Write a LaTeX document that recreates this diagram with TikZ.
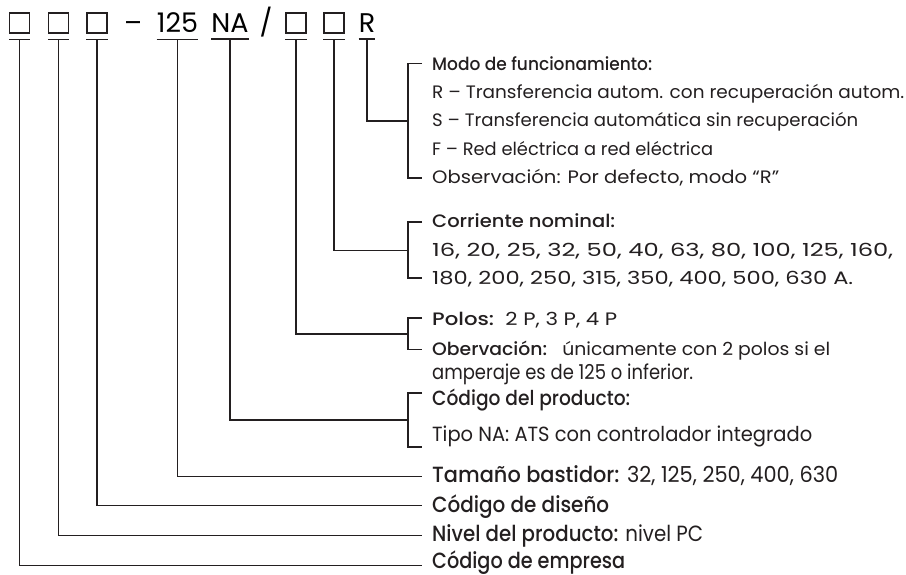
\documentclass[tikz,border=0pt]{standalone}
\usepackage{fontspec}
\usepackage{graphicx}
\IfFontExistsTF{Poppins Medium}
  {\setmainfont{Poppins}[BoldFont={Poppins Medium}]}
  {\setmainfont{Poppins}}
\usetikzlibrary{positioning,calc}
\definecolor{inkline}{RGB}{35,31,32}
\newcommand{\fitline}[2]{\resizebox{#1pt}{\height}{#2}}

\begin{document}
\begin{tikzpicture}[x=1pt,y=-1pt,
    codebox/.style={draw=inkline,line width=1.4pt,minimum size=20pt,inner sep=0pt},
    codetxt/.style={inner sep=0pt,anchor=base,font=\fontsize{27}{27}\selectfont},
    desc/.style={inner sep=0pt,anchor=base west,text=inkline,font=\fontsize{18}{20}\selectfont},
    descm/.style={desc,font=\fontsize{20.5}{22}\selectfont},
    descl/.style={desc,font=\fontsize{22}{24}\selectfont},
    wire/.style={draw=inkline,line width=1.4pt}]
  \useasboundingbox (0,0) rectangle (906,575);
  \def\tx{432}
  \def\gap{10pt}
  \foreach \n/\x in {b1/19.5,b2/58.5,b3/97,b4/296,b5/334}
    \node[codebox] (\n) at (\x,23) {};
  \node[codetxt] (dash) at (133,33) {\fitline{18}{–}};
  \node[codetxt] (c125) at (177.5,33) {125};
  \node[codetxt] (cNA) at (230,33) {NA};
  \node[codetxt] (slash) at (266,33) {/};
  \node[codetxt] (cR) at (367,33) {R};
  \foreach \n in {b1,b2,b3,c125,cNA,b4,b5,cR}
    \draw[wire] ([yshift=-6pt]\n.south west) -- ([yshift=-6pt]\n.south east);

  \node[desc] (modo) at (\tx,70.5) {\fitline{220}{\textbf{Modo de funcionamiento:}}};
  \node[desc] (modoR) at (\tx,99) {\fitline{472}{R – Transferencia autom. con recuperación autom.}};
  \node[desc] (modoS) at (\tx,127) {\fitline{426}{S – Transferencia automática sin recuperación}};
  \node[desc] (modoF) at (\tx,155.5) {\fitline{281}{F – Red eléctrica a red eléctrica}};
  \node[desc] (modoO) at (\tx,184) {\fitline{347}{Observación: Por defecto, modo “R”}};

  \node[desc] (corr) at (\tx,228) {\fitline{183}{\textbf{Corriente nominal:}}};
  \node[desc] (corrA) at (\tx,256.5) {\fitline{461}{16, 20, 25, 32, 50, 40, 63, 80, 100, 125, 160,}};
  \node[desc] (corrB) at (\tx,284.5) {\fitline{421}{180, 200, 250, 315, 350, 400, 500, 630 A.}};

  \node[desc] (pol) at (\tx,325.5) {\fitline{185}{\textbf{Polos:}\ \ 2 P, 3 P, 4 P}};
  \node[desc] (polO) at (\tx,355.5) {\fitline{398}{\textbf{Obervación:}\ \ \ únicamente con 2 polos si el}};
  \node[descm] (polA) at (\tx,379) {\fitline{261}{amperaje es de 125 o inferior.}};

  \node[descm] (prod) at (\tx,405) {\fitline{198}{\textbf{Código del producto:}}};
  \node[descm] (prodT) at (\tx,441) {\fitline{380}{Tipo NA: ATS con controlador integrado}};

  \node[descl] (bast) at (\tx,482.5) {\fitline{406}{\textbf{Tamaño bastidor:} 32, 125, 250, 400, 630}};
  \node[descl] (dis) at (\tx,512) {\fitline{177}{\textbf{Código de diseño}}};
  \node[descl] (niv) at (\tx,541.5) {\fitline{271}{\textbf{Nivel del producto:} nivel PC}};
  \node[descl] (emp) at (\tx,568.5) {\fitline{193}{\textbf{Código de empresa}}};

  \draw[wire] ([xshift=-\gap,yshift=7pt]modo.base west) -- ++(-14,0)
    |- ([xshift=-\gap,yshift=6pt]modoO.base west);
  \draw[wire] ([xshift=-\gap,yshift=6pt]corr.base west) -- ++(-14,0)
    |- ([xshift=-\gap,yshift=6.5pt]corrB.base west);
  \draw[wire] ([xshift=-\gap,yshift=7.5pt]pol.base west) -- ++(-14,0)
    |- ([xshift=-\gap,yshift=6pt]polO.base west);
  \draw[wire] ([xshift=-\gap,yshift=12pt]prod.base west) -- ++(-14,0)
    |- ([xshift=-\gap,yshift=-6pt]prodT.base west);

  \coordinate (jm) at ([xshift=-24pt,yshift=6pt]modoS.base west);
  \coordinate (jc) at ([xshift=-24pt,yshift=6pt]corrA.base west);
  \coordinate (jp) at ($([xshift=-24pt,yshift=7pt]pol.base west)!0.5!([xshift=-24pt,yshift=6pt]polO.base west)$);
  \coordinate (jn) at ([xshift=-24pt,yshift=-15pt]prod.base west);

  \draw[wire] ([yshift=-6pt]cR.south) |- (jm);
  \draw[wire] ([yshift=-6pt]b5.south) |- (jc);
  \draw[wire] ([yshift=-6pt]b4.south) |- (jp);
  \draw[wire] ([yshift=-6pt]cNA.south) |- (jn);
  \draw[wire] ([yshift=-6pt]c125.south) |- ([xshift=-\gap,yshift=6pt]bast.base west);
  \draw[wire] ([yshift=-6pt]b3.south) |- ([xshift=-\gap,yshift=6.5pt]dis.base west);
  \draw[wire] ([yshift=-6pt]b2.south) |- ([xshift=-\gap,yshift=6pt]niv.base west);
  \draw[wire] ([yshift=-6pt]b1.south) |- ([xshift=-\gap,yshift=3pt]emp.base west);
\end{tikzpicture}
\end{document}
